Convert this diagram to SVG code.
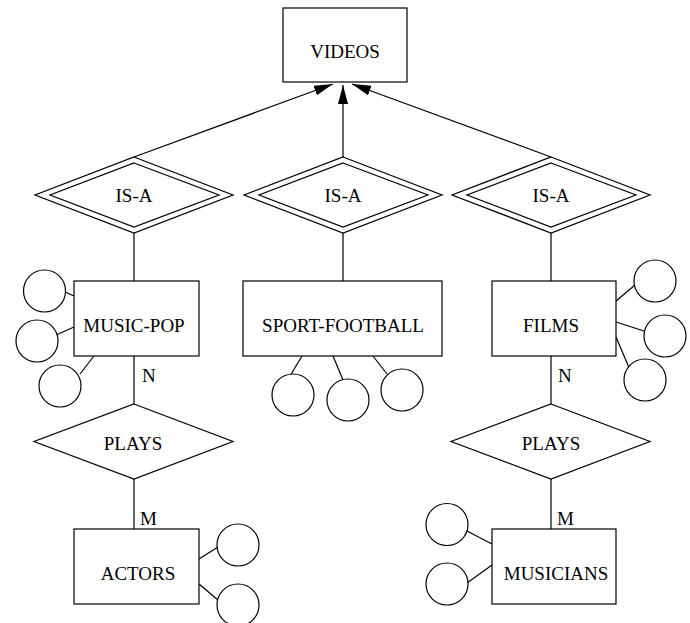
<svg xmlns="http://www.w3.org/2000/svg" width="690" height="623" viewBox="0 0 690 623">
<style>
.s{fill:#fff;stroke:#000;stroke-width:1.2}
.c{fill:none;stroke:#000;stroke-width:1.2}
.t{font-family:"Liberation Serif","Times New Roman",serif;font-size:19px;fill:#000;text-anchor:middle}
.l{font-family:"Liberation Serif","Times New Roman",serif;font-size:19px;fill:#000}
</style>
<defs>
<marker id="arr" markerUnits="userSpaceOnUse" markerWidth="20" markerHeight="12" refX="19" refY="5" orient="auto">
<path d="M0,0 L19,5 L0,10 z" fill="#000"/>
</marker>
</defs>
<rect width="690" height="623" fill="#fff"/>
<g id="connectors">
<line class="c" x1="134" y1="157" x2="333" y2="84" marker-end="url(#arr)"/>
<line class="c" x1="343" y1="157" x2="343" y2="85" marker-end="url(#arr)"/>
<line class="c" x1="551" y1="157" x2="352" y2="84" marker-end="url(#arr)"/>
<line class="c" x1="134" y1="233" x2="134" y2="281"/>
<line class="c" x1="343" y1="233" x2="343" y2="281"/>
<line class="c" x1="551" y1="233" x2="551" y2="281"/>
<line class="c" x1="134" y1="356" x2="134" y2="404"/>
<line class="c" x1="551" y1="356" x2="551" y2="404"/>
<line class="c" x1="134" y1="479" x2="134" y2="529"/>
<line class="c" x1="551" y1="479" x2="551" y2="529"/>
<line class="c" x1="65" y1="292" x2="74" y2="296"/>
<line class="c" x1="56" y1="335" x2="74" y2="327"/>
<line class="c" x1="80" y1="374" x2="94" y2="356"/>
<line class="c" x1="302" y1="356" x2="290" y2="376"/>
<line class="c" x1="333" y1="356" x2="343" y2="380"/>
<line class="c" x1="373" y1="356" x2="387" y2="374"/>
<line class="c" x1="616" y1="301" x2="635" y2="285"/>
<line class="c" x1="616" y1="322" x2="644" y2="331"/>
<line class="c" x1="616" y1="337" x2="630" y2="370"/>
<line class="c" x1="199" y1="559" x2="218" y2="547"/>
<line class="c" x1="199" y1="584" x2="218" y2="600"/>
<line class="c" x1="467" y1="531" x2="492" y2="544"/>
<line class="c" x1="467" y1="583" x2="492" y2="565"/>
<text class="l" x="142" y="382">N</text>
<text class="l" x="558" y="382">N</text>
<text class="l" x="140" y="525">M</text>
<text class="l" x="557" y="525">M</text>
</g>
<g id="videos">
<rect class="s" x="283" y="8" width="124" height="74"/>
<text class="t" x="345" y="58">VIDEOS</text>
</g>
<g id="isa1">
<polygon class="s" points="134,157 233,195 134,233 35,195"/>
<polygon class="s" points="134,163 219,195 134,227 50,195"/>
<text class="t" x="134" y="202">IS-A</text>
</g>
<g id="isa2">
<polygon class="s" points="343,157 442,195 343,233 244,195"/>
<polygon class="s" points="343,163 428,195 343,227 259,195"/>
<text class="t" x="343" y="202">IS-A</text>
</g>
<g id="isa3">
<polygon class="s" points="551,157 650,195 551,233 452,195"/>
<polygon class="s" points="551,163 636,195 551,227 467,195"/>
<text class="t" x="551" y="202">IS-A</text>
</g>
<g id="musicpop">
<rect class="s" x="74" y="281" width="125" height="75"/>
<text class="t" x="134" y="332">MUSIC-POP</text>
</g>
<g id="sportfootball">
<rect class="s" x="243" y="281" width="199" height="75"/>
<text class="t" x="343" y="332">SPORT-FOOTBALL</text>
</g>
<g id="films">
<rect class="s" x="492" y="281" width="124" height="75"/>
<text class="t" x="551" y="332">FILMS</text>
</g>
<g id="plays1">
<polygon class="s" points="134,404 233,441.5 134,479 34,441.5"/>
<text class="t" x="133" y="450">PLAYS</text>
</g>
<g id="plays2">
<polygon class="s" points="551,404 650,441.5 551,479 451,441.5"/>
<text class="t" x="551" y="450">PLAYS</text>
</g>
<g id="actors">
<rect class="s" x="74" y="529" width="125" height="75"/>
<text class="t" x="138" y="580">ACTORS</text>
</g>
<g id="musicians">
<rect class="s" x="492" y="529" width="124" height="75"/>
<text class="t" x="556" y="580">MUSICIANS</text>
</g>
<g id="attributes">
<circle class="s" cx="44.5" cy="291" r="21"/>
<circle class="s" cx="37" cy="341" r="21"/>
<circle class="s" cx="60" cy="386" r="21"/>
<circle class="s" cx="293" cy="395" r="21"/>
<circle class="s" cx="348" cy="400" r="21"/>
<circle class="s" cx="402" cy="390" r="21"/>
<circle class="s" cx="655" cy="281" r="21"/>
<circle class="s" cx="665" cy="336" r="21"/>
<circle class="s" cx="645" cy="380" r="21"/>
<circle class="s" cx="238" cy="545" r="21"/>
<circle class="s" cx="238" cy="605" r="21"/>
<circle class="s" cx="447" cy="524.5" r="21"/>
<circle class="s" cx="447" cy="584" r="21"/>
</g>
</svg>
